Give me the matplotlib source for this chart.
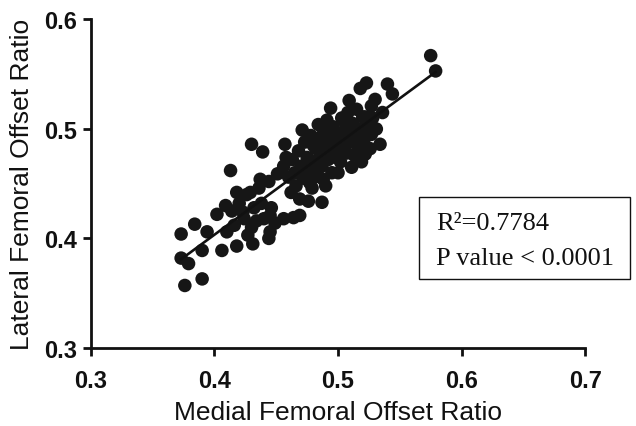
import numpy as np
import matplotlib
matplotlib.use('Agg')
import matplotlib.pyplot as plt
from matplotlib.patches import Rectangle

# Medial / lateral femoral offset ratio
medial = [
    0.373, 0.384, 0.394, 0.373, 0.379, 0.376, 0.390, 0.390, 0.406, 0.418,
    0.431, 0.402, 0.409, 0.410, 0.418, 0.413, 0.430, 0.439, 0.457, 0.471,
    0.494, 0.509, 0.518, 0.484, 0.491, 0.504, 0.458, 0.480, 0.437, 0.575,
    0.579, 0.523, 0.540, 0.544, 0.527, 0.536, 0.522, 0.527, 0.534, 0.522,
    0.511, 0.500, 0.488, 0.477, 0.481, 0.487, 0.476, 0.469, 0.464, 0.456,
    0.445, 0.430, 0.423, 0.414, 0.444, 0.429, 0.445, 0.520,
    0.416, 0.420, 0.424, 0.427, 0.426, 0.432, 0.434, 0.436, 0.438,
    0.440, 0.444, 0.446, 0.449, 0.451,
    0.456, 0.460, 0.462, 0.463, 0.465, 0.466, 0.468, 0.469, 0.470, 0.472, 0.473,
    0.475, 0.476, 0.478, 0.479, 0.480, 0.482, 0.483, 0.485, 0.486, 0.487, 0.488, 0.489, 0.490,
    0.492, 0.493, 0.494, 0.495, 0.496, 0.497, 0.498, 0.500, 0.501, 0.502, 0.503, 0.504,
    0.506, 0.507, 0.508, 0.509, 0.510, 0.512, 0.513, 0.514, 0.515, 0.516, 0.518, 0.519,
    0.521, 0.524, 0.526, 0.528, 0.530, 0.531,
]
lateral = [
    0.404, 0.413, 0.406, 0.382, 0.377, 0.357, 0.363, 0.389, 0.389, 0.393,
    0.395, 0.422, 0.430, 0.406, 0.442, 0.462, 0.486, 0.479, 0.486, 0.499,
    0.519, 0.526, 0.537, 0.504, 0.508, 0.508, 0.474, 0.485, 0.454, 0.567,
    0.553, 0.542, 0.541, 0.532, 0.521, 0.515, 0.511, 0.495, 0.486, 0.477,
    0.465, 0.460, 0.454, 0.451, 0.456, 0.433, 0.434, 0.421, 0.419, 0.418,
    0.406, 0.410, 0.424, 0.425, 0.400, 0.442, 0.421, 0.511,
    0.412, 0.432, 0.418, 0.403, 0.440, 0.428, 0.416, 0.446, 0.432,
    0.418, 0.452, 0.428, 0.414, 0.459,
    0.466, 0.456, 0.442, 0.472, 0.460, 0.448, 0.480, 0.436, 0.466, 0.455, 0.488,
    0.474, 0.462, 0.494, 0.446, 0.470, 0.482, 0.460, 0.492, 0.476, 0.466, 0.500, 0.486, 0.448,
    0.472, 0.494, 0.482, 0.460, 0.502, 0.488, 0.474, 0.496, 0.482, 0.470, 0.510, 0.490,
    0.500, 0.478, 0.515, 0.488, 0.497, 0.505, 0.476, 0.492, 0.518, 0.484, 0.500, 0.470,
    0.490, 0.503, 0.482, 0.510, 0.527, 0.500,
]

x = np.array(medial)
y = np.array(lateral)

fig = plt.figure(figsize=(6.36, 4.27), dpi=100)
ax = fig.add_axes([0.143, 0.183, 0.777, 0.769])

ax.scatter(x, y, s=95, color='#161616', edgecolors='none', zorder=3)

# droite de regression
slope, intercept = np.polyfit(x, y, 1)
xl = np.array([x.min(), x.max()])
ax.plot(xl, slope * xl + intercept, color='#111111', lw=1.9, zorder=4)

ax.set_xlim(0.3, 0.7)
ax.set_ylim(0.3, 0.6)
ax.set_xticks([0.3, 0.4, 0.5, 0.6, 0.7])
ax.set_yticks([0.3, 0.4, 0.5, 0.6])
ax.set_xticklabels(['0.3', '0.4', '0.5', '0.6', '0.7'])
ax.set_yticklabels(['0.3', '0.4', '0.5', '0.6'])

for side in ['top', 'right']:
    ax.spines[side].set_visible(False)
for side in ['left', 'bottom']:
    ax.spines[side].set_linewidth(2)
    ax.spines[side].set_color('#111111')

ax.tick_params(direction='out', length=6, width=2, color='#111111')
ax.tick_params(axis='x', pad=9)
ax.tick_params(axis='y', pad=4)
for lab in ax.get_xticklabels() + ax.get_yticklabels():
    lab.set_family('Liberation Sans')
    lab.set_fontweight('bold')
    lab.set_fontsize(17)
    lab.set_color('#111111')

ax.set_xlabel('Medial Femoral Offset Ratio', family='Liberation Sans', fontsize=19, color='#111111', labelpad=6)
ax.set_ylabel('Lateral Femoral Offset Ratio', family='Liberation Sans', fontsize=19, color='#111111', labelpad=7)

# cadre avec R2 et p
fig.patches.append(Rectangle((419 / 636, 1 - 280 / 427), 211 / 636, 82 / 427,
                             transform=fig.transFigure, facecolor='white',
                             edgecolor='#111111', lw=1, zorder=5))
fig.text(436 / 636, 1 - 230 / 427, 'R²=0.7784', family='Liberation Serif',
         fontsize=19, color='#111111', va='baseline', ha='left', zorder=6)
fig.text(436 / 636, 1 - 265 / 427, 'P value < 0.0001', family='Liberation Serif',
         fontsize=19, color='#111111', va='baseline', ha='left', zorder=6)

fig.savefig('out.png', dpi=100)
